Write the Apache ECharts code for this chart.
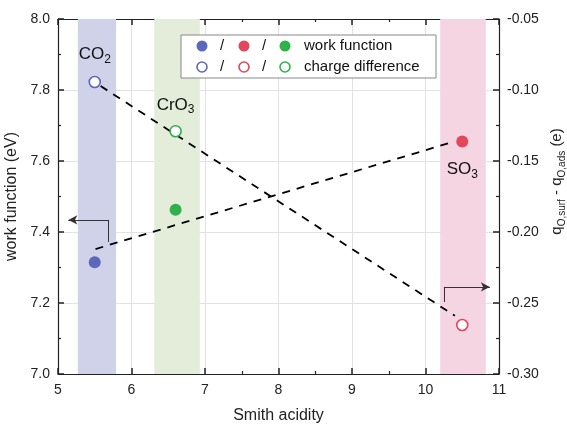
<!DOCTYPE html>
<html><head><meta charset="utf-8">
<script src="https://cdn.jsdelivr.net/npm/echarts@6/dist/echarts.min.js"></script>
<style>html,body{margin:0;padding:0;background:#fff}#c{width:567px;height:425px}</style>
</head><body><div id="c"></div>
<script>
// ---- data ----
const compounds = ['CO2', 'CrO3', 'SO3'];
const smithAcidity = [5.5, 6.6, 10.5];
const workFunction = [7.315, 7.463, 7.655];
const chargeDifference = [-0.0944, -0.129, -0.2655];
const bandRanges = [[5.27, 5.79], [6.31, 6.93], [10.2, 10.82]];
const wfTrendX = [5.51, 10.33];
const wfTrendY = [7.352, 7.651];
const cdTrendX = [5.58, 10.40];
const cdTrendY = [-0.0972, -0.259];
const xTicks = [5, 6, 7, 8, 9, 10, 11];
const leftTicks = [7.0, 7.2, 7.4, 7.6, 7.8, 8.0];
const rightTicks = [-0.30, -0.25, -0.20, -0.15, -0.10, -0.05];
// arrow annotations (data coords)
const leftArrow = [[5.686, 7.372], [5.686, 7.434], [5.14, 7.434]];
const rightArrow = [[10.25, -0.2493], [10.25, -0.2387], [10.876, -0.2387]];

// ---- style ----
const compoundColors = ['#5c69ba', '#2fb24c', '#e2475b'];   // CO2, CrO3, SO3
const legendColors = ['#5c69ba', '#e2475b', '#2fb24c'];
const bandColors = ['#cfd2e8', '#e3edda', '#f5d5e1'];
const FONT = 'Liberation Sans, Arial, sans-serif';
const labelSpec = [
  {on: 'cd', position: 'top', distance: 10},
  {on: 'cd', position: 'top', distance: 9},
  {on: 'wf', position: 'bottom', distance: 11}
];
function chem(name) {
  const m = name.match(/^([A-Za-z]+?)(\d+)$/);
  return '{n|' + m[1] + '}{s|' + m[2] + '}';
}
const chemRich = {
  n: {fontSize: 17, fontFamily: FONT, color: '#111', lineHeight: 22, verticalAlign: 'middle'},
  s: {fontSize: 12, fontFamily: FONT, color: '#111', lineHeight: 12, verticalAlign: 'bottom'}
};

const series = [];
series.push({
  type: 'line', data: [], xAxisIndex: 0, yAxisIndex: 0, silent: true,
  markArea: {
    silent: true,
    data: bandRanges.map((r, i) => [{xAxis: r[0], itemStyle: {color: bandColors[i]}}, {xAxis: r[1]}])
  },
  z: 0
});
const axisArrowStyle = {color: '#333', width: 1, type: 'solid'};
series.push({
  type: 'line', xAxisIndex: 0, yAxisIndex: 0, symbol: 'none', z: 3,
  data: wfTrendX.map((x, i) => [x, wfTrendY[i]]),
  lineStyle: {color: '#000', width: 1.8, type: [8, 7]},
  markLine: {
    silent: true, symbol: ['none', 'none'], label: {show: false},
    lineStyle: axisArrowStyle,
    data: [
      [{coord: leftArrow[0]}, {coord: leftArrow[1]}],
      [{coord: leftArrow[1]}, {coord: leftArrow[2], symbol: 'arrow', symbolSize: [7, 9]}]
    ]
  }
});
series.push({
  type: 'line', xAxisIndex: 0, yAxisIndex: 1, symbol: 'none', z: 3,
  data: cdTrendX.map((x, i) => [x, cdTrendY[i]]),
  lineStyle: {color: '#000', width: 1.8, type: [8, 7]},
  markLine: {
    silent: true, symbol: ['none', 'none'], label: {show: false},
    lineStyle: axisArrowStyle,
    data: [
      [{coord: rightArrow[0]}, {coord: rightArrow[1]}],
      [{coord: rightArrow[1]}, {coord: rightArrow[2], symbol: 'arrow', symbolSize: [7, 9]}]
    ]
  }
});
compounds.forEach((c, i) => {
  const ls = labelSpec[i];
  series.push({
    type: 'scatter', xAxisIndex: 0, yAxisIndex: 0, symbolSize: 12, z: 5,
    data: [[smithAcidity[i], workFunction[i]]],
    itemStyle: {color: compoundColors[i], opacity: 1},
    label: ls.on === 'wf' ? {show: true, position: ls.position, distance: ls.distance, formatter: chem(c), rich: chemRich} : {show: false}
  });
  series.push({
    type: 'scatter', xAxisIndex: 0, yAxisIndex: 1, symbolSize: 11, z: 5,
    data: [[smithAcidity[i], chargeDifference[i]]],
    itemStyle: {color: '#fff', borderColor: compoundColors[i], borderWidth: 1.6, opacity: 1},
    label: ls.on === 'cd' ? {show: true, position: ls.position, distance: ls.distance, formatter: chem(c), rich: chemRich} : {show: false}
  });
});

const TICK = '#222';
const tickLabel = () => ({fontSize: 14, color: '#222', fontFamily: FONT});
const axisLineStyle = () => ({show: true, lineStyle: {color: '#222', width: 1.2}});
const tickStyle = () => ({show: true, inside: true, length: 6, lineStyle: {color: TICK, width: 1.5}});
const minorStyle = () => ({show: true, splitNumber: 2, length: 3, lineStyle: {color: TICK, width: 1.2}});

const LX = 181, LY = 35, LW = 255, LH = 43;
const cx = [202, 244, 285], sx = [222, 264];
const rowY = [46, 67];
const legendEls = [{type: 'rect', z: 100, shape: {x: LX, y: LY, width: LW, height: LH}, style: {fill: '#fff', stroke: '#888', lineWidth: 1}}];
rowY.forEach((y, r) => {
  cx.forEach((x, i) => {
    legendEls.push({type: 'circle', z: 101, shape: {cx: x, cy: y, r: r === 0 ? 5.5 : 5},
      style: r === 0 ? {fill: legendColors[i]} : {fill: '#fff', stroke: legendColors[i], lineWidth: 1.6}});
  });
  sx.forEach(x => legendEls.push({type: 'text', z: 101, x: x, y: y, style: {text: '/', fontSize: 15, fontFamily: FONT, fill: '#111', align: 'center', verticalAlign: 'middle'}}));
  legendEls.push({type: 'text', z: 101, x: 304, y: y, style: {text: r === 0 ? 'work function' : 'charge difference', fontSize: 15, fontFamily: FONT, fill: '#111', align: 'left', verticalAlign: 'middle'}});
});

const option = {
  animation: false,
  backgroundColor: '#fff',
  grid: {left: 58, right: 68, top: 19, bottom: 51, containLabel: false, outerBoundsMode: 'none'},
  xAxis: [{
    type: 'value', min: xTicks[0], max: xTicks[xTicks.length - 1], interval: 1, position: 'bottom',
    name: 'Smith acidity', nameLocation: 'middle', nameGap: 34,
    nameTextStyle: {fontSize: 16, color: '#222', fontFamily: FONT},
    axisLine: axisLineStyle(), axisTick: tickStyle(), minorTick: minorStyle(),
    axisLabel: Object.assign({margin: 9, formatter: v => String(v)}, tickLabel()),
    splitLine: {show: true, lineStyle: {color: '#e2e2e2', width: 1}}
  }, {
    type: 'value', min: xTicks[0], max: xTicks[xTicks.length - 1], interval: 1, position: 'top',
    axisLine: axisLineStyle(), axisTick: tickStyle(), minorTick: minorStyle(),
    axisLabel: {show: false}, splitLine: {show: false}
  }],
  yAxis: [{
    type: 'value', min: leftTicks[0], max: leftTicks[leftTicks.length - 1], interval: 0.2, position: 'left',
    name: 'work function (eV)', nameLocation: 'middle', nameGap: 31, nameRotate: 90,
    nameTextStyle: {fontSize: 16, color: '#222', fontFamily: FONT},
    axisLine: axisLineStyle(), axisTick: tickStyle(), minorTick: minorStyle(),
    axisLabel: Object.assign({margin: 8, formatter: v => v.toFixed(1)}, tickLabel()),
    splitLine: {show: true, lineStyle: {color: '#e2e2e2', width: 1}}
  }, {
    type: 'value', min: rightTicks[0], max: rightTicks[rightTicks.length - 1], interval: 0.05, position: 'right',
    name: '{n|q}{s|O,surf}{n| - q}{s|O,ads}{n| (e)}', nameLocation: 'middle', nameGap: 46, nameRotate: 90,
    nameTextStyle: {
      padding: [0, 0, 0, 30],
      rich: {
        n: {fontSize: 15, color: '#222', fontFamily: FONT, lineHeight: 20, verticalAlign: 'middle'},
        s: {fontSize: 10, color: '#222', fontFamily: FONT, lineHeight: 10, verticalAlign: 'bottom'}
      }
    },
    axisLine: axisLineStyle(), axisTick: tickStyle(), minorTick: minorStyle(),
    axisLabel: Object.assign({margin: 8, formatter: v => v.toFixed(2)}, tickLabel()),
    splitLine: {show: false}
  }],
  graphic: {elements: legendEls},
  series: series
};
echarts.init(document.getElementById('c'), null, {renderer: 'canvas'}).setOption(option);
</script></body></html>
